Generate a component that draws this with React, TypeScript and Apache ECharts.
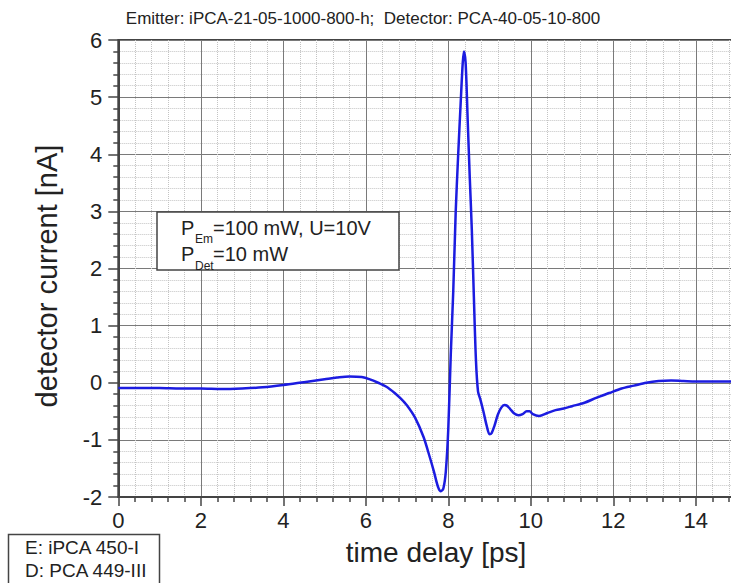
import React, { useEffect, useRef } from "react";
import * as echarts from "echarts";

const timeDelay = [
  0, 0.5, 1, 1.5, 2, 2.5, 3, 3.5, 4, 4.5, 5, 5.3, 5.6, 5.9, 6.1, 6.3, 6.5, 6.7, 6.85, 7.0,
  7.2, 7.4, 7.55, 7.65, 7.75, 7.82, 7.88, 7.94, 8.0, 8.06, 8.12, 8.18, 8.24, 8.3, 8.35, 8.38,
  8.42, 8.47, 8.52, 8.57, 8.62, 8.67, 8.72, 8.78, 8.85, 8.93, 9.0, 9.05, 9.12, 9.2, 9.28, 9.36,
  9.42, 9.5, 9.6, 9.7, 9.8, 9.9, 9.97, 10.05, 10.2, 10.4, 10.6, 10.8, 11.0, 11.3, 11.6, 11.9,
  12.2, 12.5, 12.8, 13.1, 13.4, 13.7, 14.0, 14.4, 14.8, 15.2,
];
const detectorCurrent = [
  -0.09, -0.09, -0.09, -0.1, -0.1, -0.11, -0.1, -0.08, -0.04, 0.01, 0.06, 0.09, 0.11, 0.1, 0.06, 0.0, -0.07, -0.18, -0.28, -0.4,
  -0.62, -0.95, -1.3, -1.55, -1.82, -1.9, -1.85, -1.55, -0.8, 0.5, 1.6, 3.0, 4.0, 4.9, 5.6, 5.8,
  5.6, 4.6, 3.6, 2.68, 1.5, 0.4, -0.15, -0.3, -0.5, -0.75, -0.9, -0.88, -0.75, -0.56, -0.44, -0.39,
  -0.4, -0.46, -0.54, -0.57, -0.55, -0.5, -0.5, -0.55, -0.58, -0.53, -0.48, -0.45, -0.41, -0.35, -0.26, -0.18,
  -0.1, -0.05, 0.0, 0.03, 0.04, 0.03, 0.02, 0.02, 0.02, 0.02,
];

const chartTitle = "Emitter: iPCA-21-05-1000-800-h;  Detector: PCA-40-05-10-800";
const xName = "time delay [ps]";
const yName = "detector current [nA]";
const legendLine1 = ["P", "Em", "=100 mW, U=10V"];
const legendLine2 = ["P", "Det", "=10 mW"];
const sampleLines = ["E: iPCA 450-I", "D: PCA 449-III"];

const FONT = "Liberation Sans, Arial, sans-serif";

export default function App() {
  const ref = useRef<HTMLDivElement>(null);
  useEffect(() => {
    document.body.style.margin = "0";
    if (!ref.current) return;
    const chart = echarts.init(ref.current, null, { renderer: "svg" });
    const data = timeDelay.map((t, i) => [t, detectorCurrent[i]]);
    const txt = (text: string, x: number, y: number, size: number, align = "left", extra: any = {}) => ({
      type: "text",
      x,
      y,
      ...extra,
      style: {
        text,
        fontSize: size,
        fontFamily: FONT,
        fill: "#222",
        align,
        verticalAlign: "middle",
      },
      z: 100,
    });
    chart.setOption({
      animation: false,
      backgroundColor: "#fff",
      grid: {
        left: 118.3,
        width: 660,
        top: 40,
        bottom: 86,
        outerBoundsMode: "none",
        containLabel: false,
        show: true,
        borderColor: "#444",
        borderWidth: 2,
        backgroundColor: "#fff",
      },
      xAxis: {
        type: "value",
        min: 0,
        max: 16,
        interval: 2,
        axisLine: { onZero: false, lineStyle: { color: "#444", width: 2 } },
        axisTick: { length: 9, lineStyle: { color: "#444", width: 1.5 } },
        minorTick: { show: true, splitNumber: 5, length: 5, lineStyle: { color: "#444", width: 1.5 } },
        splitLine: { show: true, lineStyle: { color: "#7a7a7a", width: 1 } },
        minorSplitLine: { show: true, lineStyle: { color: "#c4c4c4", width: 1, type: "dotted" } },
        axisLabel: {
          fontSize: 22,
          fontFamily: FONT,
          color: "#222",
          margin: 12,
          showMaxLabel: false,
          formatter: (v: number) => (v > 15 ? "" : String(v)),
        },
      },
      yAxis: {
        type: "value",
        min: -2,
        max: 6,
        interval: 1,
        axisLine: { onZero: false, lineStyle: { color: "#444", width: 2 } },
        axisTick: { length: 10, lineStyle: { color: "#444", width: 1.5 } },
        minorTick: { show: true, splitNumber: 5, length: 5, lineStyle: { color: "#444", width: 1.5 } },
        splitLine: { show: true, lineStyle: { color: "#7a7a7a", width: 1 } },
        minorSplitLine: { show: true, lineStyle: { color: "#c4c4c4", width: 1, type: "dotted" } },
        axisLabel: { fontSize: 22, fontFamily: FONT, color: "#222", margin: 16 },
      },
      series: [
        {
          type: "line",
          data,
          showSymbol: false,
          smooth: 0.3,
          lineStyle: { color: "#1c1ce0", width: 2.5 },
          z: 10,
        },
      ],
      graphic: [
        txt(chartTitle, 363, 18.5, 17, "center"),
        txt(xName, 436, 552, 28, "center"),
        txt(yName, 46.5, 276, 29, "center", { rotation: Math.PI / 2 }),
        {
          type: "rect",
          shape: { x: 157, y: 212, width: 242, height: 58 },
          style: { fill: "#fff", stroke: "#444", lineWidth: 1.5 },
          z: 90,
        },
        txt(legendLine1[0], 181, 227.5, 20),
        txt(legendLine1[1], 195, 238.5, 12),
        txt(legendLine1[2], 213, 227.5, 20),
        txt(legendLine2[0], 181, 254, 20),
        txt(legendLine2[1], 195, 266, 12),
        txt(legendLine2[2], 213, 254, 20),
        {
          type: "rect",
          shape: { x: 8.5, y: 534.5, width: 151, height: 60 },
          style: { fill: "#fff", stroke: "#444", lineWidth: 1.5 },
          z: 90,
        },
        txt(sampleLines[0], 25, 547, 19),
        txt(sampleLines[1], 25, 570, 19),
      ],
    });
    return () => chart.dispose();
  }, []);
  return <div ref={ref} style={{ width: 731, height: 583 }} />;
}
